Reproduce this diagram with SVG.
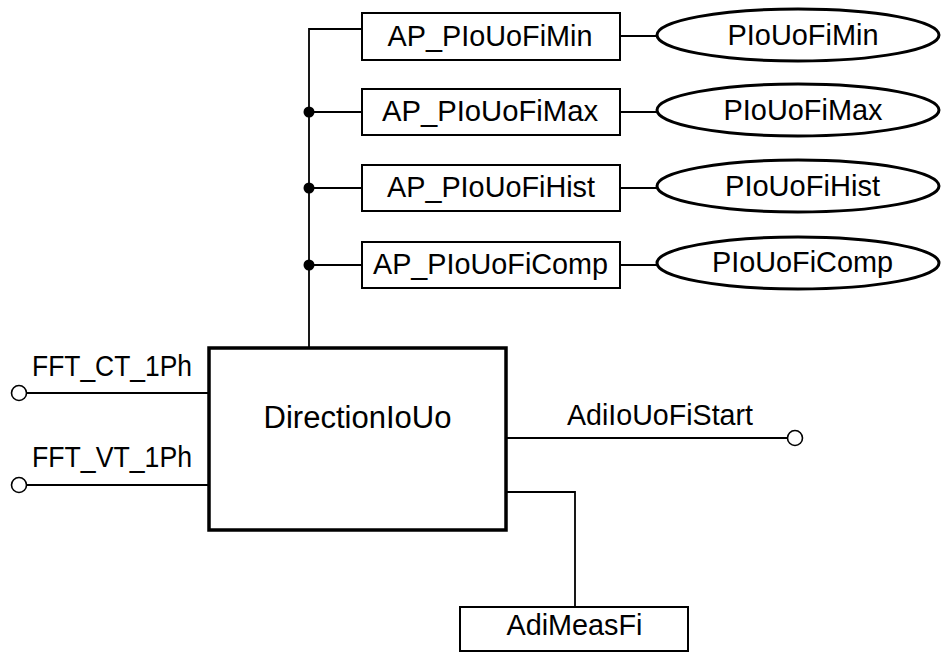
<svg xmlns="http://www.w3.org/2000/svg" width="941" height="653" viewBox="0 0 941 653">
<style>
text{font-family:"Liberation Sans",Arial,sans-serif;font-size:29px;fill:#000}
.c{text-anchor:middle}
.box{fill:#fff;stroke:#000;stroke-width:2}
.main{fill:#fff;stroke:#000;stroke-width:3.5}
.ell{fill:#fff;stroke:#000;stroke-width:3}
.ln{fill:none;stroke:#000;stroke-width:1.8}
.dot{fill:#000}
.term{fill:#fff;stroke:#000;stroke-width:1.6}
</style>
<rect width="941" height="653" fill="#fff"/>
<g id="connectors">
<polyline class="ln" points="362,29 309,29 309,348"/>
<line class="ln" x1="309" y1="112" x2="362" y2="112"/>
<line class="ln" x1="309" y1="188" x2="362" y2="188"/>
<line class="ln" x1="309" y1="265" x2="362" y2="265"/>
<circle class="dot" cx="309" cy="112" r="5.5"/>
<circle class="dot" cx="309" cy="188" r="5.5"/>
<circle class="dot" cx="309" cy="265" r="5.5"/>
<line class="ln" x1="620" y1="36" x2="657" y2="36"/>
<line class="ln" x1="620" y1="112" x2="657" y2="112"/>
<line class="ln" x1="620" y1="188" x2="657" y2="188"/>
<line class="ln" x1="620" y1="265" x2="657" y2="265"/>
<line class="ln" x1="27" y1="393" x2="209" y2="393"/>
<line class="ln" x1="27" y1="485" x2="209" y2="485"/>
<line class="ln" x1="506" y1="438" x2="787" y2="438"/>
<polyline class="ln" points="506,492 575,492 575,607"/>
<circle class="term" cx="19" cy="393" r="7.5"/>
<circle class="term" cx="19" cy="485" r="7.5"/>
<circle class="term" cx="795" cy="438" r="7.5"/>
</g>
<g id="ap-min"><rect class="box" x="362" y="13" width="258" height="47"/><text class="c" x="490" y="46" textLength="205" lengthAdjust="spacingAndGlyphs">AP_PIoUoFiMin</text></g>
<g id="ap-max"><rect class="box" x="362" y="89" width="258" height="46"/><text class="c" x="490" y="121" textLength="216" lengthAdjust="spacingAndGlyphs">AP_PIoUoFiMax</text></g>
<g id="ap-hist"><rect class="box" x="362" y="165" width="258" height="46"/><text class="c" x="491" y="197" textLength="208" lengthAdjust="spacingAndGlyphs">AP_PIoUoFiHist</text></g>
<g id="ap-comp"><rect class="box" x="362" y="242" width="258" height="46"/><text class="c" x="490.5" y="274" textLength="235" lengthAdjust="spacingAndGlyphs">AP_PIoUoFiComp</text></g>
<g id="p-min"><ellipse class="ell" cx="798" cy="35" rx="141" ry="26"/><text class="c" x="803" y="44.5" textLength="151" lengthAdjust="spacingAndGlyphs">PIoUoFiMin</text></g>
<g id="p-max"><ellipse class="ell" cx="798" cy="110" rx="141" ry="26"/><text class="c" x="803" y="120" textLength="159" lengthAdjust="spacingAndGlyphs">PIoUoFiMax</text></g>
<g id="p-hist"><ellipse class="ell" cx="798" cy="186" rx="141" ry="26"/><text class="c" x="802.5" y="196" textLength="155" lengthAdjust="spacingAndGlyphs">PIoUoFiHist</text></g>
<g id="p-comp"><ellipse class="ell" cx="798" cy="263" rx="141" ry="26"/><text class="c" x="802.5" y="272" textLength="181" lengthAdjust="spacingAndGlyphs">PIoUoFiComp</text></g>
<g id="direction"><rect class="main" x="209" y="348" width="297" height="182"/><text class="c" x="357.5" y="428" style="font-size:31px" textLength="188" lengthAdjust="spacingAndGlyphs">DirectionIoUo</text></g>
<g id="adimeasfi"><rect class="box" x="460" y="607" width="228" height="44"/><text class="c" x="574.5" y="635" textLength="136" lengthAdjust="spacingAndGlyphs">AdiMeasFi</text></g>
<g id="labels">
<text x="32" y="376" textLength="160" lengthAdjust="spacingAndGlyphs">FFT_CT_1Ph</text>
<text x="32" y="467" textLength="160" lengthAdjust="spacingAndGlyphs">FFT_VT_1Ph</text>
<text x="567" y="425" style="font-size:30px" textLength="186" lengthAdjust="spacingAndGlyphs">AdiIoUoFiStart</text>
</g>
</svg>
